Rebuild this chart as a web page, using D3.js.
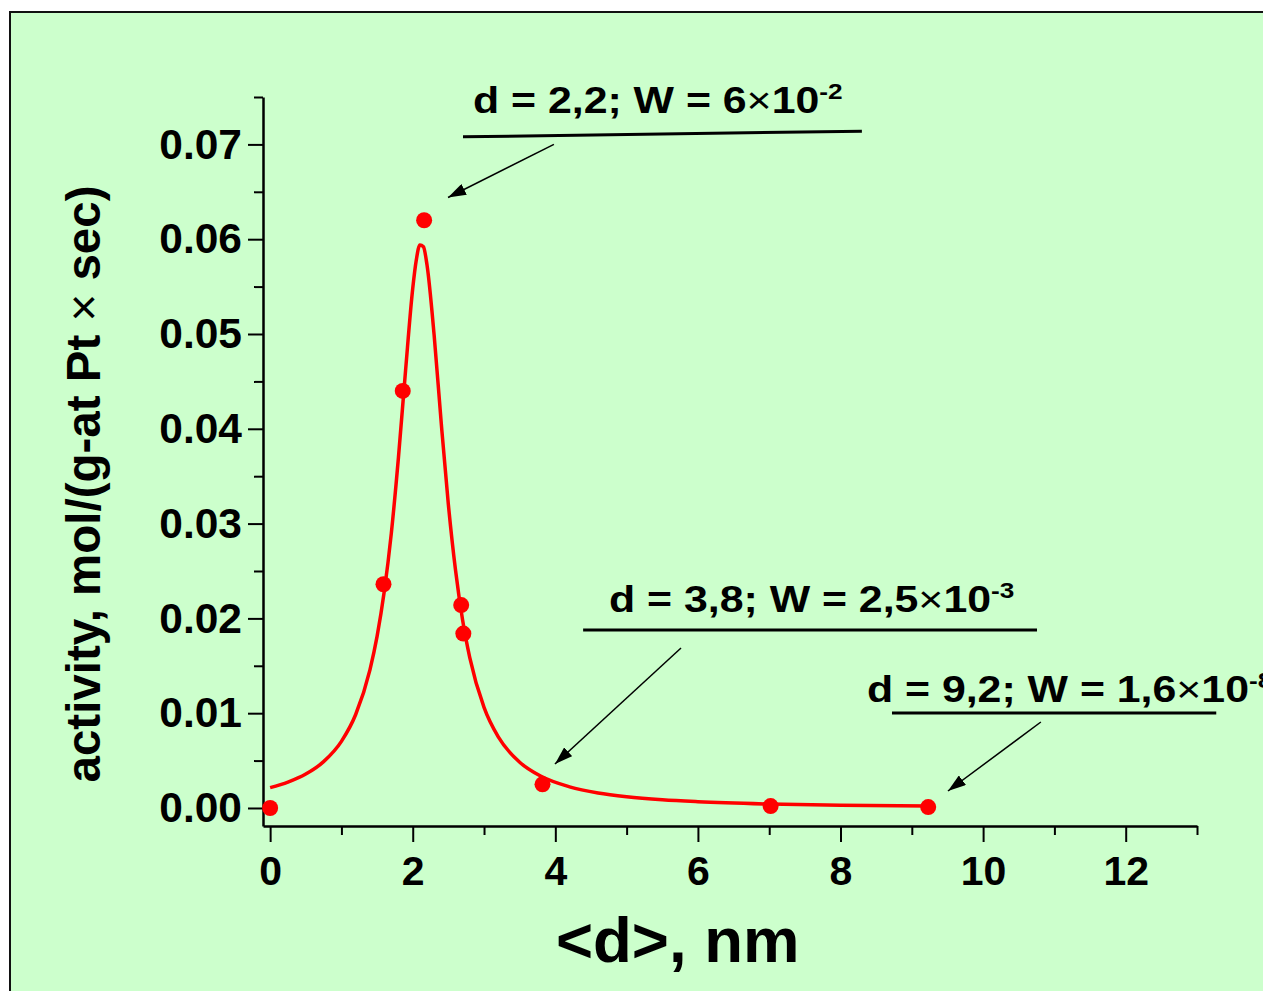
<!DOCTYPE html>
<html>
<head>
<meta charset="utf-8">
<script src="https://cdn.jsdelivr.net/npm/d3@7"></script>
<style>
  body { margin: 0; background: #fff; }
  svg { display: block; font-family: "Liberation Sans", Arial, sans-serif; font-weight: bold; }
</style>
</head>
<body>
<svg id="chart"></svg>
<script>
// measured points: mean particle size <d> (nm) vs activity
const sizes = [0, 1.59, 1.86, 2.16, 2.68, 2.71, 3.82, 7.02, 9.23];
const activity = [0, 0.0236, 0.0440, 0.0620, 0.0214, 0.0184, 0.0025, 0.0002, 0.0001];

// fitted curve
const fitX = [0, 0.25, 0.5, 0.75, 1.0, 1.2, 1.4, 1.5, 1.6, 1.7, 1.8, 1.9, 2.0, 2.05, 2.1,
  2.15, 2.2, 2.3, 2.4, 2.5, 2.6, 2.7, 2.8, 3.0, 3.2, 3.5, 3.8, 4.2, 4.6, 5.0, 5.5, 6.0, 7.0, 8.0, 9.23];
const fitY = [0.00215, 0.00273, 0.00358, 0.00489, 0.00703, 0.00986, 0.01457, 0.0181, 0.0228, 0.0290,
  0.0370, 0.0462, 0.0548, 0.0578, 0.0594, 0.0592, 0.0573, 0.0499, 0.0406, 0.0320, 0.0251, 0.0198,
  0.01586, 0.01061, 0.00749, 0.00483, 0.00334, 0.00223, 0.00158, 0.00118, 0.00086, 0.00066,
  0.00042, 0.00029, 0.0002];

const xTicks = [0, 2, 4, 6, 8, 10, 12];
const xMinorTicks = [1, 3, 5, 7, 9, 11, 13];
const yTicks = [0, 0.01, 0.02, 0.03, 0.04, 0.05, 0.06, 0.07];
const yMinorTicks = [0.005, 0.015, 0.025, 0.035, 0.045, 0.055, 0.065, 0.075];

// callouts (positions in data units)
const noteText = ['d = 2,2; W = 6', 'd = 3,8; W = 2,5', 'd = 9,2; W = 1,6'];
const noteExp = ['-2', '-3', '-8'];
const noteAt = [[2.845, 0.0733], [4.753, 0.02068], [8.371, 0.01118]];
const noteLine = [[2.705, 0.0708, 8.30, 0.0714], [4.39, 0.01878, 10.756, 0.01878], [8.722, 0.01002, 13.27, 0.01002]];
const noteArrow = [[3.98, 0.0700, 2.495, 0.0644], [5.763, 0.01688, 3.995, 0.00464], [10.81, 0.00907, 9.507, 0.00179]];

const width = 1263;
const height = 991;

const svg = d3.select('#chart')
  .attr('width', width)
  .attr('height', height);

svg.append('defs').append('marker')
  .attr('id', 'head')
  .attr('viewBox', '0 0 18 12')
  .attr('markerUnits', 'userSpaceOnUse')
  .attr('markerWidth', 18)
  .attr('markerHeight', 12)
  .attr('refX', 18)
  .attr('refY', 6)
  .attr('orient', 'auto')
  .append('path')
  .attr('d', 'M0,0 L18,6 L0,12 Z')
  .attr('fill', '#000');

// frame
svg.append('rect')
  .attr('x', 10)
  .attr('y', 12)
  .attr('width', 1400)
  .attr('height', 1100)
  .attr('fill', '#ccffcc')
  .attr('stroke', '#111')
  .attr('stroke-width', 2);

const x = d3.scaleLinear().domain([-0.1, 13]).range([263, 1197]);
const y = d3.scaleLinear().domain([-0.0019, 0.075]).range([826, 97]);

// minor ticks first
svg.append('g')
  .attr('transform', `translate(0,${y.range()[0]})`)
  .call(d3.axisBottom(x).tickValues(xMinorTicks).tickSize(9).tickSizeOuter(0).tickFormat(''))
  .call((g) => g.select('.domain').remove())
  .selectAll('line').attr('stroke-width', 2);

svg.append('g')
  .attr('transform', `translate(${x.range()[0]},0)`)
  .call(d3.axisLeft(y).tickValues(yMinorTicks).tickSize(9).tickSizeOuter(0).tickFormat(''))
  .call((g) => g.select('.domain').remove())
  .selectAll('line').attr('stroke-width', 2);

const xAxisG = svg.append('g')
  .attr('transform', `translate(0,${y.range()[0]})`)
  .call(d3.axisBottom(x).tickValues(xTicks).tickSize(16).tickSizeOuter(0).tickPadding(14));
xAxisG.select('.domain').attr('stroke-width', 2.5);
xAxisG.selectAll('line').attr('stroke-width', 2);
xAxisG.selectAll('text')
  .attr('font-family', '"Liberation Sans", Arial, sans-serif')
  .attr('font-weight', 'bold')
  .attr('font-size', 41)
  .attr('fill', '#000');

const yAxisG = svg.append('g')
  .attr('transform', `translate(${x.range()[0]},0)`)
  .call(d3.axisLeft(y).tickValues(yTicks).tickSize(15).tickSizeOuter(0).tickPadding(6)
    .tickFormat(d3.format('.2f')));
yAxisG.select('.domain').attr('stroke-width', 2.5);
yAxisG.selectAll('line').attr('stroke-width', 2);
yAxisG.selectAll('text')
  .attr('font-family', '"Liberation Sans", Arial, sans-serif')
  .attr('font-weight', 'bold')
  .attr('font-size', 42.5)
  .attr('fill', '#000');

// axis titles
svg.append('text')
  .attr('x', 556)
  .attr('y', 962)
  .attr('font-size', 63.5)
  .text('<d>, nm');

const yTitle = svg.append('text')
  .attr('transform', 'translate(100,484) rotate(-90)')
  .attr('text-anchor', 'middle')
  .attr('font-size', 47.5);
yTitle.append('tspan').text('activity, mol/(g-at Pt ');
yTitle.append('tspan').attr('font-weight', 'normal').text('×');
yTitle.append('tspan').text(' sec)');

// fitted curve
const fit = fitX.map((d, i) => [d, fitY[i]]);
svg.append('path')
  .datum(fit)
  .attr('fill', 'none')
  .attr('stroke', '#ff0000')
  .attr('stroke-width', 3.5)
  .attr('d', d3.line().x((d) => x(d[0])).y((d) => y(d[1])).curve(d3.curveMonotoneX));

svg.append('g')
  .selectAll('circle')
  .data(sizes.map((d, i) => [d, activity[i]]))
  .join('circle')
  .attr('cx', (d) => x(d[0]))
  .attr('cy', (d) => y(d[1]))
  .attr('r', 8)
  .attr('fill', '#ff0000');

// callouts
noteText.forEach((t, i) => {
  const g = svg.append('g')
    .attr('transform', `translate(${x(noteAt[i][0])},${y(noteAt[i][1])}) scale(1.19,1)`);
  const label = g.append('text').attr('font-size', 36);
  label.append('tspan').text(t);
  label.append('tspan').attr('font-weight', 'normal').text('×');
  label.append('tspan').text('10');
  label.append('tspan').attr('font-size', 22).attr('dy', -14).text(noteExp[i]);

  const l = noteLine[i];
  svg.append('line')
    .attr('x1', x(l[0])).attr('y1', y(l[1]))
    .attr('x2', x(l[2])).attr('y2', y(l[3]))
    .attr('stroke', '#000')
    .attr('stroke-width', 3);

  const a = noteArrow[i];
  svg.append('line')
    .attr('x1', x(a[0])).attr('y1', y(a[1]))
    .attr('x2', x(a[2])).attr('y2', y(a[3]))
    .attr('stroke', '#000')
    .attr('stroke-width', 1.5)
    .attr('marker-end', 'url(#head)');
});
</script>
</body>
</html>
